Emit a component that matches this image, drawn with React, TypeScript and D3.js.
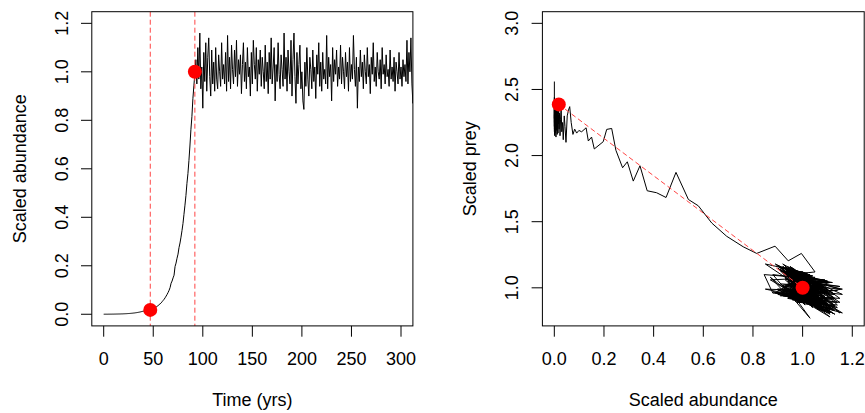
import React from 'react';
import * as d3 from 'd3';

// ---- data ----
// scaled abundance, years 0..92 (growth phase)
const abundanceGrowth = [
  0.0002, 0.0002, 0.0003, 0.0003, 0.0003, 0.0004, 0.0004, 0.0005, 0.0005, 0.0006,
  0.0006, 0.0007, 0.0008, 0.0009, 0.001, 0.0011, 0.0012, 0.0013, 0.0015, 0.0016,
  0.0018, 0.002, 0.0022, 0.0024, 0.0027, 0.003, 0.0033, 0.0036, 0.004, 0.0044,
  0.0049, 0.0054, 0.006, 0.0066, 0.0073, 0.008, 0.0088, 0.0097, 0.0107, 0.0118,
  0.0125, 0.0132, 0.014, 0.0148, 0.0156, 0.0163, 0.017, 0.0175,
  0.0192, 0.021, 0.023, 0.025, 0.0275, 0.03, 0.033, 0.036, 0.04, 0.043, 0.047, 0.052, 0.057, 0.062, 0.068,
  0.075, 0.082, 0.09, 0.099, 0.11, 0.128, 0.137, 0.15, 0.161, 0.197, 0.211, 0.231, 0.248, 0.275, 0.294,
  0.318, 0.345, 0.374, 0.412, 0.45, 0.49, 0.54, 0.58, 0.634, 0.694, 0.761, 0.815, 0.889, 0.942, 0.995,
];
// scaled abundance, years 93..312 (fluctuating phase, visible in the time plot)
const abundanceNoise = [
  1.05, 0.95, 1.10, 0.97, 1.16, 0.93, 1.02, 0.85, 1.08, 0.96,
  1.12, 0.92, 1.06, 1.14, 0.98, 0.90, 1.09, 0.95, 1.04, 0.92,
  1.10, 0.97, 0.93, 1.07, 1.00, 0.94, 1.12, 0.97, 1.03, 0.95,
  1.08, 0.92, 1.15, 0.96, 1.06, 0.93, 1.11, 1.01, 0.95, 1.09,
  0.98, 1.13, 0.94, 1.05, 0.99, 1.07, 0.91, 1.03, 1.12, 0.96,
  1.04, 0.93, 1.10, 0.98, 1.02, 0.90, 1.08, 0.95, 1.13, 1.03,
  0.97, 1.10, 0.92, 1.05, 0.99, 1.09, 0.94, 1.06, 1.00, 0.93,
  1.11, 0.96, 1.04, 0.91, 1.08, 0.97, 1.14, 0.95, 1.02, 1.10,
  0.88, 1.03, 0.96, 1.12, 0.99, 0.93, 1.07, 1.01, 0.94, 1.16,
  0.97, 1.06, 0.92, 1.09, 1.00, 0.95, 1.13, 0.90, 1.05, 1.16,
  0.98, 0.87, 1.08, 0.95, 1.03, 1.11, 0.93, 1.00, 0.88, 0.845,
  1.04, 0.94, 1.10, 0.97, 0.90, 1.06, 1.01, 0.93, 1.09, 0.96,
  1.02, 0.89, 1.07, 0.99, 1.12, 0.94, 1.04, 0.92, 1.08, 0.97,
  1.01, 0.95, 1.15, 0.93, 1.06, 0.98, 1.03, 0.88, 1.10, 0.96,
  1.05, 0.99, 1.09, 0.94, 1.02, 0.97, 1.11, 0.95, 1.06, 1.00,
  0.93, 1.08, 0.98, 1.04, 0.92, 1.10, 0.96, 1.03, 0.97, 1.15,
  1.01, 0.94, 1.06, 0.85, 1.02, 0.96, 1.09, 0.98, 1.04, 0.93,
  1.07, 1.00, 0.95, 1.10, 0.98, 1.03, 0.91, 1.06, 0.99, 1.12,
  0.96, 1.02, 0.94, 1.08, 1.00, 0.97, 1.05, 0.93, 1.10, 0.99,
  1.03, 0.95, 1.07, 0.98, 1.01, 0.94, 1.09, 0.97, 1.02, 0.96,
  1.06, 0.92, 1.04, 1.00, 0.95, 1.08, 0.97, 1.02, 0.94, 1.05,
  0.98, 1.03, 0.96, 1.13, 0.95, 1.08, 1.00, 1.14, 0.95, 0.87,
];
// scaled abundance, years 313..412 (beyond the time axis, seen only in the phase plot)
const abundanceLate = [
  0.97, 1.09, 0.93, 1.04, 1.11, 0.96, 1.02, 0.90, 1.07, 0.99,
  1.13, 0.95, 1.03, 0.92, 1.08, 1.00, 0.94, 1.12, 0.98, 1.05,
  0.91, 1.06, 0.97, 1.15, 0.95, 1.01, 0.93, 1.09, 1.03, 0.96,
  1.10, 0.94, 1.04, 0.99, 1.14, 0.92, 1.06, 0.97, 1.02, 0.89,
  1.08, 0.98, 1.11, 0.95, 1.03, 0.93, 1.07, 1.00, 0.96, 1.12,
  0.94, 1.05, 0.99, 1.09, 0.92, 1.04, 0.97, 1.13, 1.01, 0.95,
  1.08, 0.93, 1.02, 0.98, 1.10, 0.96, 1.06, 0.91, 1.04, 1.00,
  1.15, 0.97, 1.03, 0.94, 1.09, 0.99, 1.05, 0.92, 1.11, 0.98,
  1.02, 0.95, 1.07, 1.00, 0.93, 1.12, 0.97, 1.04, 0.96, 1.08,
  0.90, 1.03, 0.99, 1.10, 0.95, 1.06, 1.01, 0.94, 1.07, 0.98,
];
// scaled prey, years 0..92
const preyGrowth = [
  2.56, 2.40, 2.28, 2.44, 2.22, 2.35, 2.18, 2.41, 2.25, 2.31,
  2.20, 2.38, 2.16, 2.33, 2.27, 2.42, 2.19, 2.30, 2.24, 2.37,
  2.15, 2.29, 2.40, 2.21, 2.34, 2.17, 2.26, 2.39, 2.23, 2.32,
  2.18, 2.36, 2.25, 2.14, 2.30, 2.22, 2.38, 2.19, 2.28, 2.16,
  2.33, 2.21, 2.35, 2.17, 2.29, 2.24, 2.31, 2.387,
  2.20, 2.32, 2.15, 2.27, 2.36, 2.18, 2.25, 2.12, 2.30, 2.22, 2.10, 2.30, 2.344, 2.37, 2.25,
  2.16, 2.20, 2.17, 2.19, 2.18, 2.21, 2.11, 2.14, 2.05, 2.105, 2.198, 2.205, 2.04, 1.908, 1.953,
  1.807, 1.923, 1.734, 1.719, 1.683, 1.873, 1.668, 1.62, 1.49, 1.39, 1.31, 1.26, 1.315, 1.204, 1.26,
];
// scaled prey, years 93..312
const preyNoise = [
  1.12, 1.10, 0.90, 0.91, 0.81, 1.07, 1.11, 1.18, 0.89, 0.91,
  0.91, 1.16, 1.02, 0.87, 0.90, 0.99, 0.96, 1.16, 1.04, 1.01,
  0.81, 1.01, 1.15, 1.01, 0.97, 0.93, 0.84, 1.04, 1.10, 1.11,
  0.89, 0.94, 0.89, 1.13, 1.02, 1.02, 0.81, 0.91, 1.06, 1.06,
  1.08, 0.86, 0.92, 0.96, 1.11, 1.01, 1.03, 0.87, 0.84, 1.05,
  1.09, 1.12, 0.88, 0.89, 0.98, 1.17, 1.00, 1.01, 0.80, 0.90,
  1.04, 1.05, 1.13, 0.92, 0.89, 0.93, 1.14, 1.02, 0.97, 0.94,
  0.84, 1.05, 1.09, 1.13, 0.89, 0.90, 0.89, 1.14, 1.05, 0.90,
  0.97, 0.90, 1.05, 1.04, 1.08, 1.00, 0.83, 0.98, 1.14, 0.95,
  0.99, 0.85, 0.98, 0.96, 1.12, 1.11, 0.86, 0.95, 0.96, 0.99,
  1.07, 1.06, 0.83, 0.96, 1.00, 1.04, 1.12, 0.95, 0.96, 1.10,
  1.07, 1.10, 0.90, 0.91, 0.99, 0.98, 1.11, 1.12, 0.89, 0.91,
  0.98, 1.18, 1.01, 0.98, 0.81, 0.96, 0.99, 1.18, 1.01, 0.97,
  0.87, 1.03, 0.99, 1.11, 0.93, 0.90, 0.77, 1.10, 1.05, 1.10,
  0.92, 0.89, 0.93, 1.14, 1.05, 0.99, 0.78, 0.96, 0.98, 1.12,
  1.12, 0.89, 0.89, 0.96, 1.16, 0.99, 1.00, 0.87, 0.94, 0.92,
  1.11, 1.11, 0.91, 0.99, 0.98, 1.13, 1.00, 0.98, 0.86, 0.97,
  0.97, 1.12, 1.11, 0.88, 0.89, 0.97, 1.16, 1.02, 0.98, 0.81,
  0.95, 1.01, 1.16, 1.01, 0.95, 0.90, 0.96, 1.15, 0.99, 0.98,
  0.87, 0.96, 0.97, 1.13, 1.06, 0.99, 0.82, 1.01, 1.09, 1.09,
  0.93, 0.95, 0.89, 1.02, 1.16, 1.01, 0.97, 0.87, 1.03, 1.07,
  1.07, 0.95, 0.92, 0.83, 1.06, 1.06, 1.07, 0.85, 0.92, 1.08,
];
// scaled prey, years 313..412
const preyLate = [
  0.93, 0.98, 1.16, 0.98, 0.80, 0.99, 1.07, 0.98, 0.99, 1.12,
  0.92, 0.92, 0.94, 1.14, 0.85, 1.04, 1.15, 0.93, 0.89, 0.93,
  1.14, 0.87, 1.06, 1.01, 1.05, 0.87, 1.01, 1.02, 0.89, 1.07,
  1.04, 1.05, 0.85, 0.97, 0.98, 0.97, 1.00, 1.13, 1.00, 0.96,
  0.90, 1.09, 0.83, 1.08, 1.09, 1.06, 0.83, 0.96, 1.11, 0.83,
  1.08, 1.08, 1.02, 0.82, 1.02, 1.05, 0.93, 0.95, 1.10, 1.05,
  0.82, 1.01, 1.07, 0.92, 0.97, 1.14, 0.97, 0.94, 0.93, 1.08,
  0.81, 1.06, 1.09, 1.05, 0.82, 0.97, 1.05, 0.97, 0.96, 1.12,
  0.99, 0.92, 0.91, 1.08, 0.96, 0.96, 1.13, 0.98, 0.91, 0.90,
  1.15, 0.89, 1.05, 1.04, 1.05, 0.84, 0.95, 1.12, 0.86, 1.05,
];

const abundance = [...abundanceGrowth, ...abundanceNoise, ...abundanceLate];
const prey = [...preyGrowth, ...preyNoise, ...preyLate];
const years = abundance.map((_, i) => i);

// highlighted points (start of growth, reaching carrying capacity)
const markerYears = [47, 92];
const markerAbundance = [0.018, 1.0];
const markerPrey = [2.387, 1.0];

const timeTicks = [0, 50, 100, 150, 200, 250, 300];
const abundanceTicks = [0, 0.2, 0.4, 0.6, 0.8, 1.0, 1.2];
const phaseXTicks = [0, 0.2, 0.4, 0.6, 0.8, 1.0, 1.2];
const preyTicks = [1.0, 1.5, 2.0, 2.5, 3.0];

const FONT = "'Liberation Sans', Arial, Helvetica, sans-serif";
const FS = 18;
const TICK = 10.8;

const top = 11.7;
const bottom = 325.9;

function XAxis({ scale, ticks, fmt, title }: { scale: any; ticks: number[]; fmt: (n: number) => string; title: string }) {
  const [r0, r1] = scale.range();
  return (
    <g>
      {ticks.map((t) => (
        <g key={t}>
          <line x1={scale(t)} x2={scale(t)} y1={bottom} y2={bottom + TICK} stroke="#000" strokeWidth={1} />
          <text x={scale(t)} y={365} textAnchor="middle" fontSize={FS} fontFamily={FONT} fill="#000">
            {fmt(t)}
          </text>
        </g>
      ))}
      <text x={(r0 + r1) / 2} y={406} textAnchor="middle" fontSize={FS} fontFamily={FONT} fill="#000">
        {title}
      </text>
    </g>
  );
}

function YAxis({ scale, ticks, fmt, title, left }: { scale: any; ticks: number[]; fmt: (n: number) => string; title: string; left: number }) {
  return (
    <g>
      {ticks.map((t) => (
        <g key={t}>
          <line x1={left - TICK} x2={left} y1={scale(t)} y2={scale(t)} stroke="#000" strokeWidth={1} />
          <text
            transform={`translate(${left - 24},${scale(t)}) rotate(-90)`}
            textAnchor="middle"
            fontSize={FS}
            fontFamily={FONT}
            fill="#000"
          >
            {fmt(t)}
          </text>
        </g>
      ))}
      <text
        transform={`translate(${left - 66},${(top + bottom) / 2}) rotate(-90)`}
        textAnchor="middle"
        fontSize={FS}
        fontFamily={FONT}
        fill="#000"
      >
        {title}
      </text>
    </g>
  );
}

export default function App() {
  const f1 = d3.format('.1f');
  const fd = d3.format('d');

  // left panel: time series
  const xT = d3.scaleLinear().domain([-12, 312]).range([91.8, 412.9]);
  const yA = d3.scaleLinear().domain([-0.048, 1.248]).range([bottom, top]);
  // right panel: phase plot
  const xP = d3.scaleLinear().domain([-0.048, 1.248]).range([542.4, 864.2]);
  const yP = d3.scaleLinear().domain([0.712, 3.088]).range([bottom, top]);

  const tsLine = d3
    .line<number>()
    .x((_, i) => xT(years[i]))
    .y((d) => yA(d))(abundance) as string;

  const phaseLine = d3
    .line<number>()
    .x((d) => xP(d))
    .y((_, i) => yP(prey[i]))(abundance) as string;

  const [lx0, lx1] = xT.range();
  const [rx0, rx1] = xP.range();

  return (
    <svg
      width={865}
      height={413}
      style={{ position: 'absolute', left: 0, top: 0, background: '#fff' }}
      xmlns="http://www.w3.org/2000/svg"
    >
      <defs>
        <clipPath id="clipL">
          <rect x={lx0} y={top} width={lx1 - lx0} height={bottom - top} />
        </clipPath>
        <clipPath id="clipR">
          <rect x={rx0} y={top} width={rx1 - rx0} height={bottom - top} />
        </clipPath>
      </defs>
      <rect x={0} y={0} width={865} height={413} fill="#fff" />

      {/* Left panel */}
      <g clipPath="url(#clipL)">
        <path d={tsLine} fill="none" stroke="#000" strokeWidth={1} />
        {markerYears.map((yr) => (
          <line key={yr} x1={xT(yr)} x2={xT(yr)} y1={top} y2={bottom} stroke="#ff4444" strokeWidth={1} strokeDasharray="5,3" />
        ))}
        {markerYears.map((yr, i) => (
          <circle key={'c' + yr} cx={xT(yr)} cy={yA(markerAbundance[i])} r={7} fill="#ff0000" />
        ))}
      </g>
      <rect x={lx0} y={top} width={lx1 - lx0} height={bottom - top} fill="none" stroke="#000" strokeWidth={1} />
      <XAxis scale={xT} ticks={timeTicks} fmt={fd} title="Time (yrs)" />
      <YAxis scale={yA} ticks={abundanceTicks} fmt={f1} title="Scaled abundance" left={lx0} />

      {/* Right panel */}
      <g clipPath="url(#clipR)">
        <path d={phaseLine} fill="none" stroke="#000" strokeWidth={1} />
        <line
          x1={xP(markerAbundance[0])}
          y1={yP(markerPrey[0])}
          x2={xP(markerAbundance[1])}
          y2={yP(markerPrey[1])}
          stroke="#ff4444"
          strokeWidth={1}
          strokeDasharray="5,3"
        />
        {markerAbundance.map((a, i) => (
          <circle key={'p' + i} cx={xP(a)} cy={yP(markerPrey[i])} r={7} fill="#ff0000" />
        ))}
      </g>
      <rect x={rx0} y={top} width={rx1 - rx0} height={bottom - top} fill="none" stroke="#000" strokeWidth={1} />
      <XAxis scale={xP} ticks={phaseXTicks} fmt={f1} title="Scaled abundance" />
      <YAxis scale={yP} ticks={preyTicks} fmt={f1} title="Scaled prey" left={rx0} />
    </svg>
  );
}
